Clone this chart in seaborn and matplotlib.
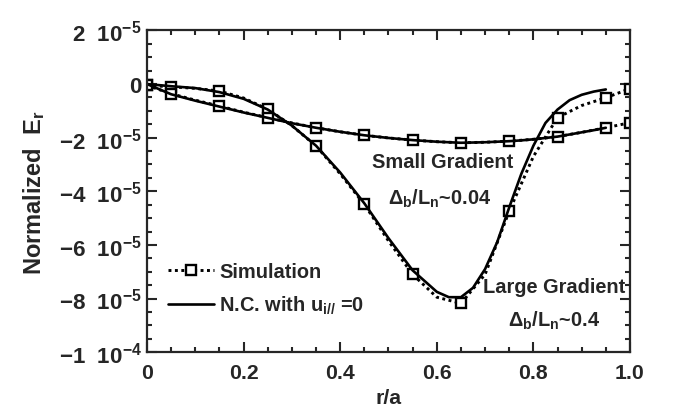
import matplotlib
matplotlib.use("Agg")
import matplotlib.pyplot as plt
from matplotlib import font_manager
from matplotlib.lines import Line2D
from matplotlib.ticker import MultipleLocator, FixedLocator
import seaborn as sns
import numpy as np

# ---- data (values in units of 1e-5) ----
sim_r = [0, 0.05, 0.1, 0.15, 0.2, 0.25, 0.3, 0.35, 0.4, 0.45, 0.5, 0.55, 0.6,
         0.65, 0.7, 0.75, 0.8, 0.85, 0.9, 0.95, 1.0]
sim_large = [-0.05, -0.1, -0.16, -0.26, -0.52, -0.94, -1.55, -2.31, -3.35, -4.49, -5.85, -7.1, -7.95,
             -8.18, -7.1, -4.74, -2.7, -1.25, -0.8, -0.51, -0.17]
sim_small = [-0.05, -0.36, -0.6, -0.82, -1.05, -1.25, -1.45, -1.63, -1.78, -1.91, -2.01, -2.09, -2.15,
             -2.19, -2.17, -2.13, -2.06, -1.96, -1.8, -1.63, -1.44]
marker_idx = [0, 1, 3, 5, 7, 9, 11, 13, 15, 17, 19, 20]

nc_r = [0, 0.05, 0.1, 0.15, 0.2, 0.25, 0.3, 0.35, 0.4, 0.45, 0.5, 0.55, 0.6, 0.625,
        0.65, 0.675, 0.7, 0.725, 0.75, 0.775, 0.8, 0.825, 0.85, 0.875, 0.9, 0.925, 0.95]
nc_large = [0, -0.08, -0.15, -0.3, -0.55, -0.95, -1.55, -2.3, -3.3, -4.45, -5.75, -6.95, -7.75, -7.95,
            -7.95, -7.6, -6.9, -5.9, -4.6, -3.35, -2.3, -1.45, -0.95, -0.6, -0.4, -0.28, -0.2]
nc_small = [0, -0.38, -0.62, -0.84, -1.06, -1.26, -1.46, -1.63, -1.78, -1.91, -2.01, -2.09, -2.15, -2.17,
            -2.19, -2.18, -2.17, -2.15, -2.13, -2.1, -2.06, -2.01, -1.96, -1.88, -1.8, -1.72, -1.63]

yticks = [2, 0, -2, -4, -6, -8, -10]
ytick_labels = ["2  10$^{-5}$", "0", "\u22122  10$^{-5}$", "\u22124  10$^{-5}$", "\u22126  10$^{-5}$",
                "\u22128  10$^{-5}$", "\u22121  10$^{-4}$"]
xticks = [0, 0.2, 0.4, 0.6, 0.8, 1.0]
xtick_labels = ["0", "0.2", "0.4", "0.6", "0.8", "1.0"]

sns.set_style("ticks")
available = {f.name for f in font_manager.fontManager.ttflist}
NARROW = "Liberation Sans Narrow" in available
base = "Liberation Sans Narrow" if NARROW else "Liberation Sans"
FONT = [base, "DejaVu Sans"]
plt.rcParams["font.family"] = FONT
plt.rcParams["font.weight"] = "bold"
plt.rcParams["mathtext.fontset"] = "custom"
plt.rcParams["mathtext.rm"] = base + ":bold"
plt.rcParams["mathtext.it"] = base + ":bold:italic"
plt.rcParams["mathtext.bf"] = base + ":bold"
plt.rcParams["mathtext.default"] = "rm"
k = 1.0 if NARROW else 0.85  # size factor to match widths

fig = plt.figure(figsize=(6.87, 4.14), dpi=100)
ax = fig.add_axes([0.214, 0.147, 0.703, 0.777])

scale = 1e-5
dot = (0, (1, 1.2))
mk = dict(marker="s", markersize=6.8, markerfacecolor="white", markeredgecolor="black",
          markeredgewidth=1.7)

for ys in (sim_large, sim_small):
    sns.lineplot(x=sim_r, y=np.array(ys) * scale, ax=ax, color="black", lw=2.1,
                 linestyle=dot, markevery=marker_idx, **mk)
for ys in (nc_large, nc_small):
    sns.lineplot(x=nc_r, y=np.array(ys) * scale, ax=ax, color="black", lw=1.9, linestyle="-")

ax.set_xlim(0, 1.0)
ax.set_ylim(-10 * scale, 2 * scale)
ax.xaxis.set_major_locator(FixedLocator(xticks))
ax.set_xticklabels(xtick_labels)
ax.xaxis.set_minor_locator(MultipleLocator(0.05))
ax.yaxis.set_major_locator(FixedLocator(np.array(yticks) * scale))
ax.set_yticklabels(ytick_labels)
ax.yaxis.set_minor_locator(MultipleLocator(0.5 * scale))
ax.tick_params(which="both", direction="in", top=True, right=True, width=1.5)
ax.tick_params(axis="y", labelsize=19 * k)
ax.tick_params(axis="x", labelsize=18 * k)
ax.tick_params(which="major", length=7)
ax.tick_params(axis="y", which="major", pad=4)
ax.tick_params(axis="x", which="major", pad=8)
ax.tick_params(which="minor", length=3.5)
for s in ax.spines.values():
    s.set_linewidth(1.6)
    s.set_visible(True)

for lab in ax.get_xticklabels() + ax.get_yticklabels():
    lab.set_fontweight("bold")

ax.set_xlabel("r/a", fontsize=18 * k, fontweight="bold", labelpad=4)
ax.set_ylabel("Normalized  E$_\\mathrm{r}$", fontsize=20 * k, fontweight="bold", labelpad=8)

tsz = 17 * k
ax.text(0.613, -2.87 * scale, "Small Gradient", fontsize=tsz, fontweight="bold", ha="center", va="center")
ax.text(0.606, -4.25 * scale, "$\\Delta_\\mathrm{b}$/L$_\\mathrm{n}$~0.04", fontsize=tsz,
        fontweight="bold", ha="center", va="center")
ax.text(0.695, -7.55 * scale, "Large Gradient", fontsize=tsz, fontweight="bold", ha="left", va="center")
ax.text(0.843, -8.8 * scale, "$\\Delta_\\mathrm{b}$/L$_\\mathrm{n}$~0.4", fontsize=tsz,
        fontweight="bold", ha="center", va="center")

handles = [Line2D([], [], color="black", lw=2.1, linestyle=dot, **mk),
           Line2D([], [], color="black", lw=1.9, linestyle="-")]
labels = ["Simulation", "N.C. with u$_{i//}$ =0"]
leg = ax.legend(handles, labels, loc="lower left", bbox_to_anchor=(0.015, 0.068), frameon=False,
                fontsize=tsz, handlelength=2.3, handletextpad=0.25, labelspacing=0.65,
                borderaxespad=0.3)
for t in leg.get_texts():
    t.set_fontweight("bold")

fig.savefig("out.png", dpi=100)
